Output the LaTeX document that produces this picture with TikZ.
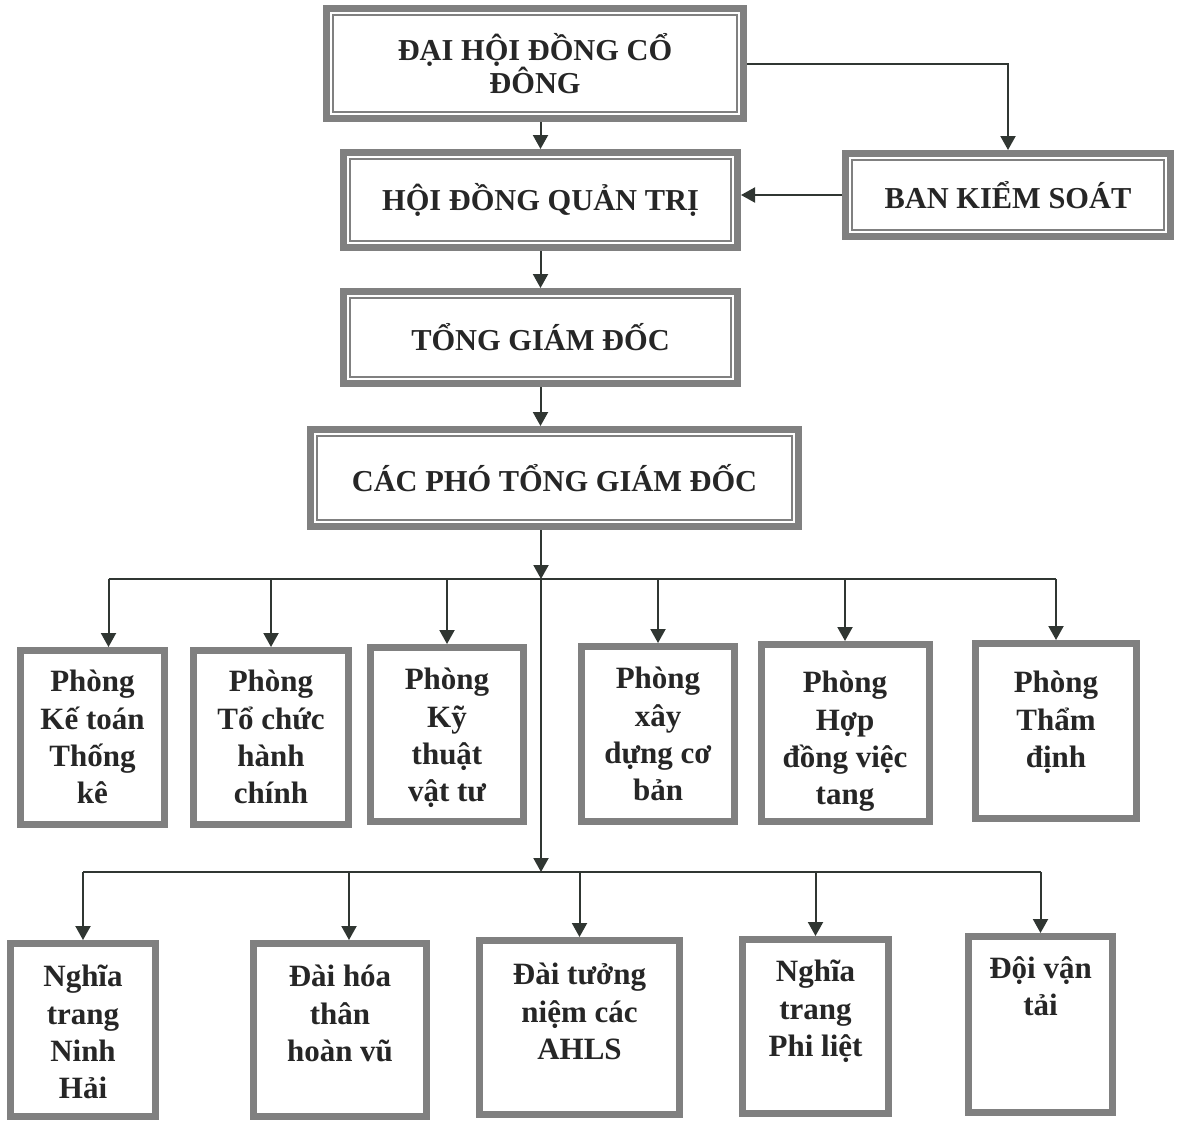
\documentclass[tikz,border=0pt]{standalone}
\usepackage{fontspec}
\setmainfont{Liberation Serif}
\usepackage{tikz}
\usetikzlibrary{arrows.meta}
\definecolor{cBox}{RGB}{128,128,128}
\definecolor{cLine}{RGB}{48,54,50}
\definecolor{cText}{RGB}{38,38,38}

\begin{document}
\begin{tikzpicture}[x=0.5pt,y=-0.5pt,
  head/.style={draw=cBox,line width=3.5pt,fill=white,inner sep=0pt,text=cText,font=\fontsize{15.2}{16.5}\selectfont\bfseries,align=center},
  unit/.style={draw=cBox,line width=3.5pt,fill=white,inner sep=0pt},
  unittext/.style={anchor=north,inner sep=0pt,text=cText,font=\fontsize{15.5}{18.6}\selectfont\bfseries,align=center},
  frame/.style={draw=cBox,line width=0.8pt},
  wire/.style={draw=cLine,line width=1pt},
  conn/.style={wire,-{Triangle[length=7pt,width=7.5pt]}}]
\useasboundingbox (0,0) rectangle (1182,1121);
\node[head,minimum width=208.5pt,minimum height=55pt] (dhd) at (535,63.5) {ĐẠI HỘI ĐỒNG CỔ\\ĐÔNG};
\node[head,minimum width=197pt,minimum height=47.5pt] (hdqt) at (540.5,200) {HỘI ĐỒNG QUẢN TRỊ};
\node[head,minimum width=162.5pt,minimum height=41.5pt] (bks) at (1008,195) {BAN KIỂM SOÁT};
\node[head,minimum width=197pt,minimum height=46pt] (tgd) at (540.5,337.5) {TỔNG GIÁM ĐỐC};
\node[head,minimum width=244pt,minimum height=48.5pt] (ptgd) at (554.5,478) {CÁC PHÓ TỔNG GIÁM ĐỐC};
\foreach \n in {dhd,hdqt,bks,tgd,ptgd}
  \draw[frame] ([shift={(5pt,-5pt)}]\n.north west) rectangle ([shift={(-5pt,5pt)}]\n.south east);
\node[unit,minimum width=72pt,minimum height=87pt] (p1) at (92.5,737.5) {};
\node[unit,minimum width=77.5pt,minimum height=87pt] (p2) at (271,737.5) {};
\node[unit,minimum width=76.5pt,minimum height=87pt] (p3) at (447,734.5) {};
\node[unit,minimum width=76.5pt,minimum height=87.5pt] (p4) at (658,734) {};
\node[unit,minimum width=84pt,minimum height=88.5pt] (p5) at (845,733) {};
\node[unit,minimum width=80.5pt,minimum height=87.5pt] (p6) at (1056,731) {};
\node[unittext] (p1t) at (92.5,670) {Phòng\\Kế toán\\Thống\\kê};
\node[unittext] (p2t) at (271,670) {Phòng\\Tổ chức\\hành\\chính};
\node[unittext] (p3t) at (447,668) {Phòng\\Kỹ\\thuật\\vật tư};
\node[unittext] (p4t) at (658,667) {Phòng\\xây\\dựng cơ\\bản};
\node[unittext] (p5t) at (845,671) {Phòng\\Hợp\\đồng việc\\tang};
\node[unittext] (p6t) at (1056,671) {Phòng\\Thẩm\\định};
\node[unit,minimum width=72.5pt,minimum height=86.5pt] (q1) at (83,1030) {};
\node[unit,minimum width=86.5pt,minimum height=86.5pt] (q2) at (340,1030) {};
\node[unit,minimum width=100pt,minimum height=87pt] (q3) at (579.5,1027.5) {};
\node[unit,minimum width=73pt,minimum height=87pt] (q4) at (815.5,1026.5) {};
\node[unit,minimum width=72pt,minimum height=88pt] (q5) at (1040.5,1024.5) {};
\node[unittext] (q1t) at (83,965) {Nghĩa\\trang\\Ninh\\Hải};
\node[unittext] (q2t) at (340,965) {Đài hóa\\thân\\hoàn vũ};
\node[unittext] (q3t) at (579.5,963) {Đài tưởng\\niệm các\\AHLS};
\node[unittext] (q4t) at (815.5,960) {Nghĩa\\trang\\Phi liệt};
\node[unittext] (q5t) at (1040.5,956) {Đội vận\\tải};
\coordinate (bus1) at (541,579);
\coordinate (bus2) at (541,872);
\draw[conn] (dhd.south -| hdqt.north) -- (hdqt.north);
\draw[conn] (dhd.east) -| (bks.north);
\draw[conn] (bks.west) -- (bks.west -| hdqt.east);
\draw[conn] (hdqt.south) -- (tgd.north);
\draw[conn] (tgd.south) -- (tgd.south |- ptgd.north);
\draw[conn] (ptgd.south -| bus1) -- (bus1);
\draw[wire] ([xshift=8pt]p1.north |- bus1) -- (p6.north |- bus1);
\draw[conn] ([xshift=8pt]p1.north |- bus1) -- ([xshift=8pt]p1.north);
\foreach \n in {p2,p3,p4,p5,p6}
  \draw[conn] (\n.north |- bus1) -- (\n.north);
\draw[conn] (bus1) -- (bus2);
\draw[wire] (q1.north |- bus2) -- (q5.north |- bus2);
\draw[conn] ([xshift=4.5pt]q2.north |- bus2) -- ([xshift=4.5pt]q2.north);
\foreach \n in {q1,q3,q4,q5}
  \draw[conn] (\n.north |- bus2) -- (\n.north);
\end{tikzpicture}
\end{document}
